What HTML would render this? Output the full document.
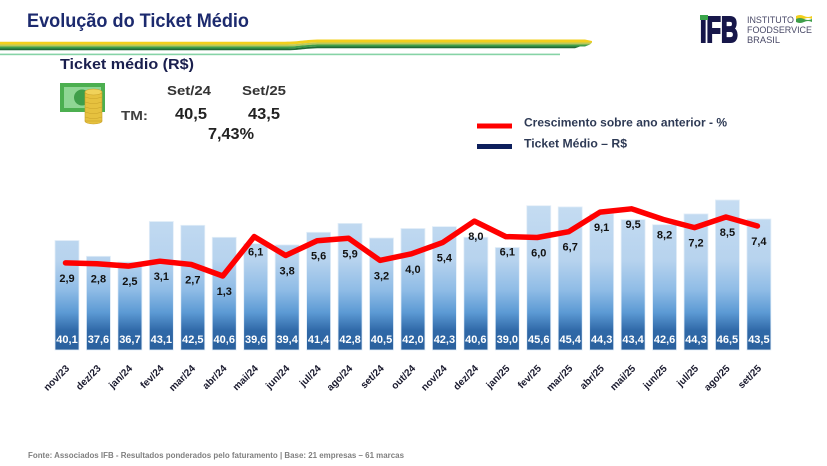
<!DOCTYPE html>
<html><head><meta charset="utf-8"><style>
html,body{margin:0;padding:0;background:#fff;}
svg{display:block;}
text{font-family:"Liberation Sans",sans-serif;}
</style></head><body>
<svg width="827" height="466" viewBox="0 0 827 466" xmlns="http://www.w3.org/2000/svg">
<defs>
<linearGradient id="bg" gradientUnits="userSpaceOnUse" x1="0" y1="200" x2="0" y2="350">
<stop offset="0" stop-color="#c6ddf2"/>
<stop offset="0.4" stop-color="#b7d3ee"/>
<stop offset="0.6" stop-color="#8fbce6"/>
<stop offset="0.75" stop-color="#5c9ad4"/>
<stop offset="0.87" stop-color="#3069a8"/>
<stop offset="1" stop-color="#2a609d"/>
</linearGradient>
</defs>

<!-- Title -->
<text x="27" y="27" font-size="19" font-weight="bold" fill="#1c2a6e" textLength="222" lengthAdjust="spacingAndGlyphs">Evolução do Ticket Médio</text>

<!-- stripes -->
<path d="M0,41.7 L285,41.7 C300,41.7 305,39.5 320,39.5 L585,39.5 L592,41 L592,42.5 L320,42.5 C305,42.5 300,44.5 285,44.5 L0,44.5 Z" fill="#f2cf1d"/>
<path d="M0,44.5 L285,44.5 C300,44.5 305,42.5 320,42.5 L592,42.5 L590,44.5 L320,44.5 C305,44.5 300,46.5 285,46.5 L0,46.5 Z" fill="#b9c95a"/>
<path d="M0,46.5 L285,46.5 C300,46.5 305,44.5 320,44.5 L590,44.5 L585,46.5 L320,46.5 C305,46.5 300,48.5 285,48.5 L0,48.5 Z" fill="#3f9e4a"/>
<path d="M0,48.5 L285,48.5 C300,48.5 305,46.5 320,46.5 L580,46.5 L575,48.2 L320,48.2 C305,48.2 300,50.3 285,50.3 L0,50.3 Z" fill="#1f6a35"/>
<rect x="0" y="53.6" width="560" height="1.6" fill="#86d3a6"/>

<!-- Logo -->
<text x="700" y="42" font-size="36" font-weight="bold" fill="#17174a" stroke="#17174a" stroke-width="2" textLength="38" lengthAdjust="spacingAndGlyphs">IFB</text>
<rect x="700" y="15" width="8" height="5" fill="#3aa54a"/>
<text x="747" y="23" font-size="9.5" fill="#4a4a68" textLength="47" lengthAdjust="spacingAndGlyphs">INSTITUTO</text>
<text x="747" y="33" font-size="9.5" fill="#4a4a68" textLength="65" lengthAdjust="spacingAndGlyphs">FOODSERVICE</text>
<text x="747" y="43" font-size="9.5" fill="#4a4a68" textLength="33" lengthAdjust="spacingAndGlyphs">BRASIL</text>
<path d="M796,16 q4,-2 8,0 t8,0 v3 q-4,-2 -8,0 t-8,0 Z" fill="#f2cf1d"/>
<path d="M796,19 q4,-2 8,0 t8,0 v3 q-4,-2 -8,0 t-8,0 Z" fill="#3f9e4a"/>

<!-- Ticket medio block -->
<text x="60" y="69" font-size="15" font-weight="bold" fill="#1a1f4e" textLength="134" lengthAdjust="spacingAndGlyphs">Ticket médio (R$)</text>
<rect x="60" y="83" width="45" height="29" fill="#4caf50"/>
<rect x="64" y="87" width="37" height="21" fill="#8fd694"/>
<ellipse cx="82" cy="97.5" rx="8" ry="8" fill="#3f9e4a"/>
<g fill="#e6c13f" stroke="#c9a22a" stroke-width="0.6">
<ellipse cx="93.5" cy="121" rx="8.5" ry="3"/>
<rect x="85" y="92" width="17" height="29"/>
<ellipse cx="93.5" cy="92" rx="8.5" ry="3" fill="#f0d25a"/>
</g>
<g stroke="#c9a22a" stroke-width="0.6" fill="none">
<path d="M85,97 q8.5,3 17,0"/><path d="M85,102 q8.5,3 17,0"/><path d="M85,107 q8.5,3 17,0"/><path d="M85,112 q8.5,3 17,0"/><path d="M85,117 q8.5,3 17,0"/>
</g>
<text x="121" y="120" font-size="13" font-weight="bold" fill="#404040" textLength="27" lengthAdjust="spacingAndGlyphs">TM:</text>
<text x="167" y="95" font-size="13" font-weight="bold" fill="#333" textLength="44" lengthAdjust="spacingAndGlyphs">Set/24</text>
<text x="242" y="95" font-size="13" font-weight="bold" fill="#333" textLength="44" lengthAdjust="spacingAndGlyphs">Set/25</text>
<text x="175" y="119" font-size="15.5" font-weight="bold" fill="#222" textLength="32" lengthAdjust="spacingAndGlyphs">40,5</text>
<text x="248" y="119" font-size="15.5" font-weight="bold" fill="#222" textLength="32" lengthAdjust="spacingAndGlyphs">43,5</text>
<text x="208" y="139" font-size="15.5" font-weight="bold" fill="#222" textLength="46" lengthAdjust="spacingAndGlyphs">7,43%</text>

<!-- Legend -->
<rect x="477" y="123.5" width="35" height="5" fill="#ff0000"/>
<text x="524" y="126.5" font-size="12" font-weight="bold" fill="#2e3a55" textLength="203" lengthAdjust="spacingAndGlyphs">Crescimento sobre ano anterior - %</text>
<rect x="477" y="144" width="35" height="5" fill="#0d1f5c"/>
<text x="524" y="147.5" font-size="12" font-weight="bold" fill="#2e3a55" textLength="103" lengthAdjust="spacingAndGlyphs">Ticket Médio – R$</text>

<!-- Bars -->
<g fill="url(#bg)" stroke="#e3eef8" stroke-width="0.8">
<rect x="55" y="240.5" width="24" height="109.5"/>
<rect x="86.45" y="256.3" width="24" height="93.7"/>
<rect x="117.9" y="262" width="24" height="88"/>
<rect x="149.35" y="221.5" width="24" height="128.5"/>
<rect x="180.8" y="225.3" width="24" height="124.7"/>
<rect x="212.25" y="237.3" width="24" height="112.7"/>
<rect x="243.7" y="243.7" width="24" height="106.3"/>
<rect x="275.15" y="244.9" width="24" height="105.1"/>
<rect x="306.6" y="232.3" width="24" height="117.7"/>
<rect x="338.05" y="223.4" width="24" height="126.6"/>
<rect x="369.5" y="238" width="24" height="112"/>
<rect x="400.95" y="228.5" width="24" height="121.5"/>
<rect x="432.4" y="226.6" width="24" height="123.4"/>
<rect x="463.85" y="237.3" width="24" height="112.7"/>
<rect x="495.3" y="247.5" width="24" height="102.5"/>
<rect x="526.75" y="205.7" width="24" height="144.3"/>
<rect x="558.2" y="206.9" width="24" height="143.1"/>
<rect x="589.65" y="213.9" width="24" height="136.1"/>
<rect x="621.1" y="219.6" width="24" height="130.4"/>
<rect x="652.55" y="224.7" width="24" height="125.3"/>
<rect x="684" y="213.9" width="24" height="136.1"/>
<rect x="715.45" y="200" width="24" height="150"/>
<rect x="746.9" y="219" width="24" height="131"/>
</g>

<!-- bottom values -->
<g font-size="11" font-weight="bold" fill="#ffffff" text-anchor="middle">
<text x="67" y="343">40,1</text>
<text x="98.45" y="343">37,6</text>
<text x="129.9" y="343">36,7</text>
<text x="161.35" y="343">43,1</text>
<text x="192.8" y="343">42,5</text>
<text x="224.25" y="343">40,6</text>
<text x="255.7" y="343">39,6</text>
<text x="287.15" y="343">39,4</text>
<text x="318.6" y="343">41,4</text>
<text x="350.05" y="343">42,8</text>
<text x="381.5" y="343">40,5</text>
<text x="412.95" y="343">42,0</text>
<text x="444.4" y="343">42,3</text>
<text x="475.85" y="343">40,6</text>
<text x="507.3" y="343">39,0</text>
<text x="538.75" y="343">45,6</text>
<text x="570.2" y="343">45,4</text>
<text x="601.65" y="343">44,3</text>
<text x="633.1" y="343">43,4</text>
<text x="664.55" y="343">42,6</text>
<text x="696" y="343">44,3</text>
<text x="727.45" y="343">46,5</text>
<text x="758.9" y="343">43,5</text>
</g>

<!-- Line -->
<polyline fill="none" stroke="#ff0000" stroke-width="5.5" stroke-linejoin="round" stroke-linecap="round"
points="65.5,262.9 96.95,263.7 128.4,266.1 159.85,261.2 191.3,264.5 222.75,276 254.2,236.6 285.65,255.5 317.1,240.7 348.55,238.3 380,260.4 411.45,253.8 442.9,242.4 474.35,221.1 505.8,236.6 537.25,237.5 568.7,231.7 600.15,212.1 631.6,208.8 663.05,219.4 694.5,227.6 725.95,217 757.4,226"/>

<!-- growth labels -->
<g font-size="11" font-weight="bold" fill="#111" text-anchor="middle">
<text x="67" y="281.9">2,9</text>
<text x="98.45" y="282.7">2,8</text>
<text x="129.9" y="285.1">2,5</text>
<text x="161.35" y="280.2">3,1</text>
<text x="192.8" y="283.5">2,7</text>
<text x="224.25" y="295">1,3</text>
<text x="255.7" y="255.6">6,1</text>
<text x="287.15" y="274.5">3,8</text>
<text x="318.6" y="259.7">5,6</text>
<text x="350.05" y="257.3">5,9</text>
<text x="381.5" y="279.4">3,2</text>
<text x="412.95" y="272.8">4,0</text>
<text x="444.4" y="261.4">5,4</text>
<text x="475.85" y="240.1">8,0</text>
<text x="507.3" y="255.6">6,1</text>
<text x="538.75" y="256.5">6,0</text>
<text x="570.2" y="250.7">6,7</text>
<text x="601.65" y="231.1">9,1</text>
<text x="633.1" y="227.8">9,5</text>
<text x="664.55" y="238.4">8,2</text>
<text x="696" y="246.6">7,2</text>
<text x="727.45" y="236">8,5</text>
<text x="758.9" y="245">7,4</text>
</g>

<!-- x labels -->
<g font-size="10" font-weight="bold" fill="#1a1a2e" text-anchor="end">
<text transform="translate(70,369) rotate(-45)">nov/23</text>
<text transform="translate(101.45,369) rotate(-45)">dez/23</text>
<text transform="translate(132.9,369) rotate(-45)">jan/24</text>
<text transform="translate(164.35,369) rotate(-45)">fev/24</text>
<text transform="translate(195.8,369) rotate(-45)">mar/24</text>
<text transform="translate(227.25,369) rotate(-45)">abr/24</text>
<text transform="translate(258.7,369) rotate(-45)">mai/24</text>
<text transform="translate(290.15,369) rotate(-45)">jun/24</text>
<text transform="translate(321.6,369) rotate(-45)">jul/24</text>
<text transform="translate(353.05,369) rotate(-45)">ago/24</text>
<text transform="translate(384.5,369) rotate(-45)">set/24</text>
<text transform="translate(415.95,369) rotate(-45)">out/24</text>
<text transform="translate(447.4,369) rotate(-45)">nov/24</text>
<text transform="translate(478.85,369) rotate(-45)">dez/24</text>
<text transform="translate(510.3,369) rotate(-45)">jan/25</text>
<text transform="translate(541.75,369) rotate(-45)">fev/25</text>
<text transform="translate(573.2,369) rotate(-45)">mar/25</text>
<text transform="translate(604.65,369) rotate(-45)">abr/25</text>
<text transform="translate(636.1,369) rotate(-45)">mai/25</text>
<text transform="translate(667.55,369) rotate(-45)">jun/25</text>
<text transform="translate(699,369) rotate(-45)">jul/25</text>
<text transform="translate(730.45,369) rotate(-45)">ago/25</text>
<text transform="translate(761.9,369) rotate(-45)">set/25</text>
</g>

<!-- footer -->
<text x="28" y="458" font-size="8" font-weight="bold" fill="#7f7f7f" textLength="376" lengthAdjust="spacingAndGlyphs">Fonte: Associados IFB - Resultados ponderados pelo faturamento | Base: 21 empresas – 61 marcas</text>
</svg>
</body></html>
